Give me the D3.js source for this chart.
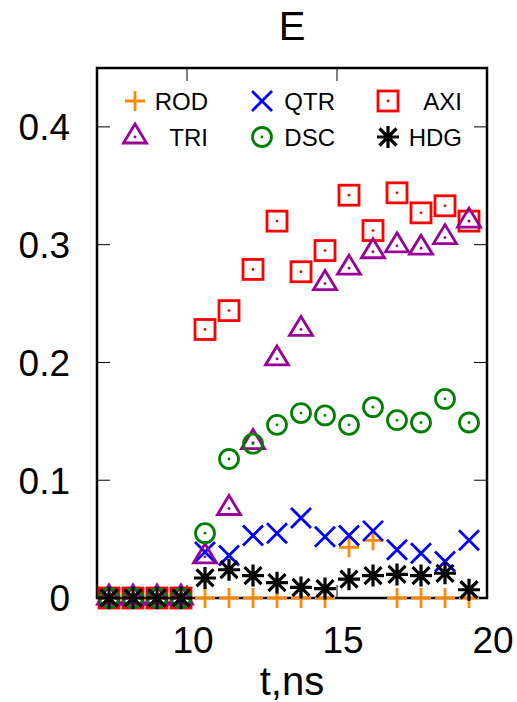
<!DOCTYPE html>
<html>
<head>
<meta charset="utf-8">
<script src="https://cdn.jsdelivr.net/npm/d3@7"></script>
<style>
  body { margin: 0; background: #fff; }
  text { font-family: "Liberation Sans", Arial, sans-serif; fill: #000; }
</style>
</head>
<body>
<div id="chart"></div>
<script>
var times = [7.4, 8.2, 9.0, 9.8, 10.6, 11.4, 12.2, 13.0, 13.8, 14.6, 15.4, 16.2, 17.0, 17.8, 18.6, 19.4];

var rod = [0, 0, 0, 0, 0, 0, 0, 0, 0, 0, 0.043, 0.049, 0, 0, 0, 0];
var qtr = [0, 0, 0, 0, 0.039, 0.036, 0.053, 0.055, 0.068, 0.052, 0.053, 0.057, 0.041, 0.038, 0.031, 0.049];
var axi = [0, 0, 0, 0, 0.228, 0.244, 0.279, 0.320, 0.277, 0.295, 0.342, 0.312, 0.344, 0.327, 0.333, 0.320];
var tri = [0, 0, 0, 0, 0.035, 0.076, 0.132, 0.203, 0.228, 0.267, 0.280, 0.294, 0.299, 0.297, 0.306, 0.320];
var dsc = [0, 0, 0, 0, 0.055, 0.118, 0.131, 0.147, 0.157, 0.155, 0.147, 0.162, 0.151, 0.149, 0.169, 0.149];
var hdg = [0, 0, 0, 0, 0.017, 0.024, 0.019, 0.013, 0.009, 0.008, 0.016, 0.019, 0.020, 0.019, 0.021, 0.007];

var seriesNames = ["ROD", "QTR", "AXI", "TRI", "DSC", "HDG"];
var xTicks = [10, 15, 20];
var yTicks = [0, 0.1, 0.2, 0.3, 0.4];

var width = 517, height = 702;
var margin = {top: 68, right: 30, bottom: 104, left: 97};

var series = [
    {name: "ROD", values: rod, color: "#ff8800", shape: "plus"},
    {name: "QTR", values: qtr, color: "#0000ff", shape: "cross"},
    {name: "AXI", values: axi, color: "#ff0000", shape: "square"},
    {name: "TRI", values: tri, color: "#990099", shape: "triangle"},
    {name: "DSC", values: dsc, color: "#008000", shape: "circle"},
    {name: "HDG", values: hdg, color: "#000000", shape: "star"}
];

var x = d3.scaleLinear().domain([7, 20]).range([margin.left, width - margin.right]);
var y = d3.scaleLinear().domain([0, 0.45]).range([height - margin.bottom, margin.top]);

var svg = d3.select("#chart").append("svg")
    .attr("width", width)
    .attr("height", height);

// marker shapes, gnuplot style
function drawMarker(g, shape, color) {
    var sw = 2.8;
    if (shape === "plus") {
        g.append("path").attr("d", "M-10,0H10M0,-10V10")
            .attr("stroke", color).attr("stroke-width", sw).attr("fill", "none");
    } else if (shape === "cross") {
        g.append("path").attr("d", "M-10,-10L10,10M10,-10L-10,10")
            .attr("stroke", color).attr("stroke-width", sw).attr("fill", "none");
    } else if (shape === "square") {
        g.append("rect").attr("x", -10).attr("y", -10).attr("width", 20).attr("height", 20)
            .attr("stroke", color).attr("stroke-width", sw).attr("fill", "none");
        g.append("circle").attr("r", 1.4).attr("fill", color);
    } else if (shape === "triangle") {
        g.append("path").attr("d", "M0,-13L11.5,6H-11.5Z")
            .attr("stroke", color).attr("stroke-width", sw).attr("fill", "none");
        g.append("circle").attr("r", 1.4).attr("fill", color);
    } else if (shape === "circle") {
        g.append("circle").attr("r", 9.5)
            .attr("stroke", color).attr("stroke-width", sw).attr("fill", "none");
        g.append("circle").attr("r", 1.4).attr("fill", color);
    } else if (shape === "star") {
        g.append("path").attr("d", "M-11,0H11M0,-11V11M-8.5,-8.5L8.5,8.5M8.5,-8.5L-8.5,8.5")
            .attr("stroke", color).attr("stroke-width", 3.2).attr("fill", "none");
    }
}

// frame
var x0 = x.range()[0], x1 = x.range()[1], y0 = y.range()[0], y1 = y.range()[1];

var ticks = svg.append("g").attr("stroke", "#000").attr("stroke-width", 1);
yTicks.forEach(function(t) {
    if (t === 0) return;
    ticks.append("line").attr("x1", x0).attr("x2", x0 + 13).attr("y1", y(t)).attr("y2", y(t));
    ticks.append("line").attr("x1", x1).attr("x2", x1 - 13).attr("y1", y(t)).attr("y2", y(t));
});
xTicks.forEach(function(t) {
    if (t === 20) return;
    ticks.append("line").attr("x1", x(t)).attr("x2", x(t)).attr("y1", y0).attr("y2", y0 - 13);
    ticks.append("line").attr("x1", x(t)).attr("x2", x(t)).attr("y1", y1).attr("y2", y1 + 13);
});

svg.append("rect")
    .attr("x", x0).attr("y", y1)
    .attr("width", x1 - x0).attr("height", y0 - y1)
    .attr("fill", "none").attr("stroke", "#000").attr("stroke-width", 2.5);

// tick labels
svg.selectAll(".ylab").data(yTicks).enter().append("text")
    .attr("class", "ylab")
    .attr("x", 70)
    .attr("y", function(d) { return y(d); })
    .attr("dy", "0.36em")
    .attr("text-anchor", "end")
    .style("font-size", "37px")
    .text(function(d) { return d === 0 ? "0" : d3.format(".1f")(d); });

svg.selectAll(".xlab").data(xTicks).enter().append("text")
    .attr("class", "xlab")
    .attr("x", function(d) { return x(d) + 6; })
    .attr("y", 653)
    .attr("text-anchor", "middle")
    .style("font-size", "37px")
    .text(function(d) { return d; });

svg.append("text")
    .attr("x", (x0 + x1) / 2)
    .attr("y", 695)
    .attr("text-anchor", "middle")
    .style("font-size", "40px")
    .text("t,ns");

svg.append("text")
    .attr("x", (x0 + x1) / 2)
    .attr("y", 40)
    .attr("text-anchor", "middle")
    .style("font-size", "40px")
    .text("E");

// points
series.forEach(function(s) {
    var g = svg.append("g");
    s.values.forEach(function(v, i) {
        var m = g.append("g").attr("transform", "translate(" + x(times[i]) + "," + y(v) + ")");
        drawMarker(m, s.shape, s.color);
    });
});

// legend: 2 rows, 3 columns (ROD QTR AXI / TRI DSC HDG)
var legendCols = [{sym: 135, txt: 208}, {sym: 262, txt: 335}, {sym: 388, txt: 462}];
var legendRows = [101, 137];
series.forEach(function(s, i) {
    var col = legendCols[i % 3], row = legendRows[Math.floor(i / 3)];
    var m = svg.append("g").attr("transform", "translate(" + col.sym + "," + row + ")");
    drawMarker(m, s.shape, s.color);
    svg.append("text")
        .attr("x", col.txt)
        .attr("y", row)
        .attr("dy", "0.36em")
        .attr("text-anchor", "end")
        .style("font-size", "24px")
        .text(s.name);
});
</script>
</body>
</html>
